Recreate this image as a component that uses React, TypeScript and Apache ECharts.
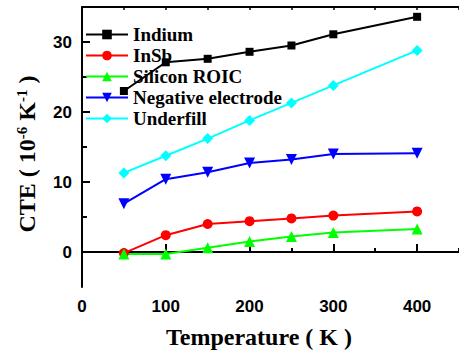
import React, { useEffect, useRef } from "react";
import * as echarts from "echarts";

const temperatures = [50, 100, 150, 200, 250, 300, 400];
const indium = [23.0, 27.1, 27.6, 28.6, 29.5, 31.1, 33.6];
const insb = [-0.15, 2.4, 4.0, 4.4, 4.8, 5.2, 5.8];
const siliconRoic = [-0.3, -0.3, 0.6, 1.5, 2.2, 2.8, 3.3];
const negativeElectrode = [6.9, 10.4, 11.4, 12.7, 13.2, 14.0, 14.1];
const underfill = [11.3, 13.75, 16.2, 18.8, 21.3, 23.8, 28.8];

const xMajorTicks = [0, 100, 200, 300, 400];
const xMinorTicks = [50, 150, 250, 350, 450];
const xTopTicks = [0, 50, 100, 150, 200, 250, 300, 350, 400, 450];
const yMajorTicks = [0, 10, 20, 30];
const yMinorTicks = [5, 15, 25];

const SERIF = "Liberation Serif";
const SANS = "Liberation Sans";

export default function App() {
  const ref = useRef<HTMLDivElement>(null);
  useEffect(() => {
    if (!ref.current) return;
    const chart = echarts.init(ref.current, null, { renderer: "svg" });
    const pair = (ys: number[]) => temperatures.map((t, i) => [t, ys[i]]);
    const lineSeries = (
      name: string,
      data: number[],
      color: string,
      symbol: string,
      size: number | number[],
      rotate = 0
    ) => ({
      name,
      type: "line",
      data: pair(data),
      symbol,
      symbolSize: size,
      symbolRotate: rotate,
      lineStyle: { color, width: 2 },
      itemStyle: { color },
      xAxisIndex: 0,
      yAxisIndex: 0,
    });
    const xBase = { type: "value", min: 0, max: 450, interval: 50, splitLine: { show: false } };
    const yBase = { type: "value", min: -5, max: 35, interval: 5, splitLine: { show: false } };
    chart.setOption({
      animation: false,
      textStyle: { fontFamily: SERIF },
      grid: { left: 82, top: 7, width: 378, height: 280, containLabel: false },
      legend: {
        left: 85,
        top: 24,
        padding: 0,
        orient: "vertical",
        itemWidth: 42,
        itemHeight: 12,
        itemGap: 0,
        formatter: "{s|{name}}",
        textStyle: {
          fontFamily: SERIF,
          fontWeight: "bold",
          fontSize: 19,
          color: "#000",
          lineHeight: 21,
          rich: {
            s: { fontFamily: SERIF, fontWeight: "bold", fontSize: 19, color: "#000", lineHeight: 21 },
          },
        },
        data: ["Indium", "InSb", "Silicon ROIC", "Negative electrode", "Underfill"],
      },
      xAxis: [
        {
          ...xBase,
          position: "bottom",
          axisLine: { show: true, lineStyle: { color: "#000", width: 2 } },
          axisTick: { show: true, inside: true, length: 8, customValues: xMajorTicks, lineStyle: { color: "#000", width: 2 } },
          axisLabel: { show: true, customValues: xMajorTicks, margin: 11, fontFamily: SANS, fontWeight: "bold", fontSize: 17, color: "#000" },
        },
        {
          ...xBase,
          position: "bottom",
          axisLine: { show: false },
          axisTick: { show: true, inside: true, length: 4, customValues: xMinorTicks, lineStyle: { color: "#000", width: 2 } },
          axisLabel: { show: false },
        },
        {
          ...xBase,
          position: "top",
          axisLine: { show: true, lineStyle: { color: "#000", width: 2 } },
          axisTick: { show: true, inside: true, length: 3, customValues: xTopTicks, lineStyle: { color: "#000", width: 1.5 } },
          axisLabel: { show: false },
        },
      ],
      yAxis: [
        {
          ...yBase,
          position: "left",
          axisLine: { show: true, lineStyle: { color: "#000", width: 2 } },
          axisTick: { show: true, inside: true, length: 8, customValues: yMajorTicks, lineStyle: { color: "#000", width: 2 } },
          axisLabel: { show: true, customValues: yMajorTicks, margin: 10, fontFamily: SANS, fontWeight: "bold", fontSize: 17, color: "#000" },
        },
        {
          ...yBase,
          position: "left",
          axisLine: { show: false },
          axisTick: { show: true, inside: true, length: 5, customValues: yMinorTicks, lineStyle: { color: "#000", width: 2 } },
          axisLabel: { show: false },
        },
      ],
      graphic: [
        {
          type: "text",
          x: 259,
          y: 337,
          style: {
            text: "Temperature ( K )",
            fontFamily: SERIF,
            fontWeight: "bold",
            fontSize: 24,
            fill: "#000",
            align: "center",
            verticalAlign: "middle",
          },
        },
        {
          type: "text",
          x: 27,
          y: 154,
          rotation: Math.PI / 2,
          style: {
            text: "CTE ( 10{sup|-6} K{sup|-1} )",
            fontFamily: SERIF,
            fontWeight: "bold",
            fontSize: 24,
            fill: "#000",
            align: "center",
            verticalAlign: "middle",
            rich: {
              sup: {
                fontFamily: SERIF,
                fontWeight: "bold",
                fontSize: 15,
                fill: "#000",
                verticalAlign: "top",
                padding: [0, 0, 10, 0],
              },
            },
          },
        },
      ],
      series: [
        lineSeries("Indium", indium, "#000000", "rect", 8),
        lineSeries("InSb", insb, "#ff0000", "circle", 10),
        lineSeries("Silicon ROIC", siliconRoic, "#00ff00", "triangle", 11),
        lineSeries("Negative electrode", negativeElectrode, "#0000ff", "triangle", 11, 180),
        lineSeries("Underfill", underfill, "#00ffff", "diamond", [11, 11]),
      ],
    });
    return () => chart.dispose();
  }, []);
  return (
    <div
      ref={ref}
      style={{ position: "absolute", left: 0, top: 0, width: 459, height: 351, background: "#fff" }}
    />
  );
}
